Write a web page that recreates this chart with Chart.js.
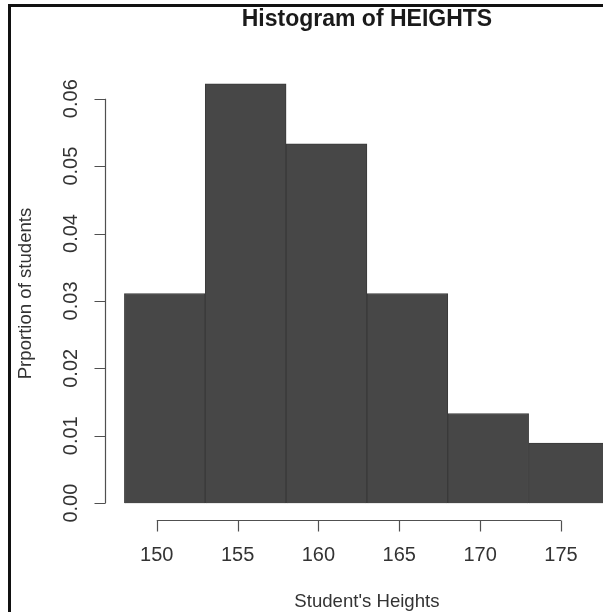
<!DOCTYPE html>
<html>
<head>
<meta charset="utf-8">
<title>Histogram of HEIGHTS</title>
<script src="https://cdn.jsdelivr.net/npm/chart.js@4.4.1/dist/chart.umd.min.js"></script>
<style>
  html, body { margin: 0; padding: 0; background: #ffffff; }
  #wrap { width: 603px; height: 612px; position: relative; }
</style>
</head>
<body>
<div id="wrap"><canvas id="hist" width="603" height="612"></canvas></div>
<script>
// Histogram data: bin edges (cm) and density of students per bin
const binEdges = [148, 153, 158, 163, 168, 173, 178];
const densities = [0.0311, 0.0622, 0.0533, 0.0311, 0.0133, 0.0089];

// Axis ticks and labels
const xTickValues = [150, 155, 160, 165, 170, 175];
const yTickValues = [0, 0.01, 0.02, 0.03, 0.04, 0.05, 0.06];
const yTickLabels = ['0.00', '0.01', '0.02', '0.03', '0.04', '0.05', '0.06'];

// Titles
const mainTitle = 'Histogram of HEIGHTS';
const xTitle = "Student's Heights";
const yTitle = 'Prportion of students';

const FONT = "'Liberation Sans', Arial, Helvetica, sans-serif";

// One bar per bin, centred on the bin midpoint; widths follow the bin spacing
const barPoints = densities.map((d, i) => ({
  x: (binEdges[i] + binEdges[i + 1]) / 2,
  y: d
}));

// Base-graphics style axes: a line spanning first..last tick with outward ticks,
// rotated y labels, titles centred over the plotting region and the outer frame.
const baseAxes = {
  id: 'baseAxes',
  afterDraw(chart) {
    const { ctx, chartArea, scales: { x, y } } = chart;
    ctx.save();

    // outer frame (top and left edges)
    ctx.fillStyle = '#111111';
    ctx.fillRect(8, 4, 3, 608);
    ctx.fillRect(8, 4, 595, 3);

    ctx.strokeStyle = '#505050';
    ctx.lineWidth = 1.2;
    const tickLen = 11;

    // x axis
    const yb = Math.round(chartArea.bottom) + 0.5;
    ctx.beginPath();
    ctx.moveTo(x.getPixelForValue(xTickValues[0]), yb);
    ctx.lineTo(x.getPixelForValue(xTickValues[xTickValues.length - 1]), yb);
    xTickValues.forEach(v => {
      const px = Math.round(x.getPixelForValue(v)) + 0.5;
      ctx.moveTo(px, yb);
      ctx.lineTo(px, yb + tickLen);
    });
    ctx.stroke();

    // y axis
    const xl = Math.round(chartArea.left) + 0.5;
    ctx.beginPath();
    ctx.moveTo(xl, y.getPixelForValue(yTickValues[0]));
    ctx.lineTo(xl, y.getPixelForValue(yTickValues[yTickValues.length - 1]));
    yTickValues.forEach(v => {
      const py = Math.round(y.getPixelForValue(v)) + 0.5;
      ctx.moveTo(xl, py);
      ctx.lineTo(xl - tickLen, py);
    });
    ctx.stroke();

    // y tick labels, parallel to the axis
    ctx.fillStyle = '#333333';
    ctx.font = '20px ' + FONT;
    ctx.textAlign = 'center';
    ctx.textBaseline = 'middle';
    yTickValues.forEach((v, i) => {
      ctx.save();
      ctx.translate(chartArea.left - 33.5, y.getPixelForValue(v));
      ctx.rotate(-Math.PI / 2);
      ctx.fillText(yTickLabels[i], 0, 0);
      ctx.restore();
    });

    // titles centred on the full bin range
    const cx = x.getPixelForValue((binEdges[0] + binEdges[binEdges.length - 1]) / 2);
    ctx.fillStyle = '#1a1a1a';
    ctx.font = 'bold 23px ' + FONT;
    ctx.fillText(mainTitle, cx, 20);

    ctx.fillStyle = '#333333';
    ctx.font = '18.6px ' + FONT;
    ctx.fillText(xTitle, cx, 602);

    ctx.save();
    ctx.translate(26, (chartArea.top + chartArea.bottom) / 2);
    ctx.rotate(-Math.PI / 2);
    ctx.fillText(yTitle, 0, 0);
    ctx.restore();

    ctx.restore();
  }
};

new Chart(document.getElementById('hist'), {
  type: 'bar',
  data: {
    datasets: [{
      label: 'Density',
      data: barPoints,
      backgroundColor: '#474747',
      borderColor: '#3a3a3a',
      borderWidth: 1,
      barPercentage: 1,
      categoryPercentage: 1
    }]
  },
  options: {
    responsive: false,
    animation: false,
    events: [],
    layout: { padding: { top: 67, right: 0, bottom: 0, left: 0 } },
    plugins: {
      legend: { display: false },
      tooltip: { enabled: false },
      title: { display: false }
    },
    scales: {
      x: {
        type: 'linear',
        min: 146.8,
        max: 177.6,
        offset: false,
        grid: { display: false, drawTicks: false },
        border: { display: false },
        ticks: {
          padding: 23.5,
          color: '#333333',
          font: { family: FONT, size: 20, lineHeight: 1.2 },
          maxRotation: 0,
          minRotation: 0
        },
        afterBuildTicks(scale) {
          scale.ticks = xTickValues.map(v => ({ value: v }));
        },
        afterFit(scale) { scale.height = 92; }
      },
      y: {
        type: 'linear',
        min: -0.0025,
        max: 0.0647,
        grid: { display: false, drawTicks: false },
        border: { display: false },
        ticks: { display: false },
        afterBuildTicks(scale) {
          scale.ticks = yTickValues.map(v => ({ value: v }));
        },
        afterFit(scale) { scale.width = 105; }
      }
    }
  },
  plugins: [baseAxes]
});
</script>
</body>
</html>
